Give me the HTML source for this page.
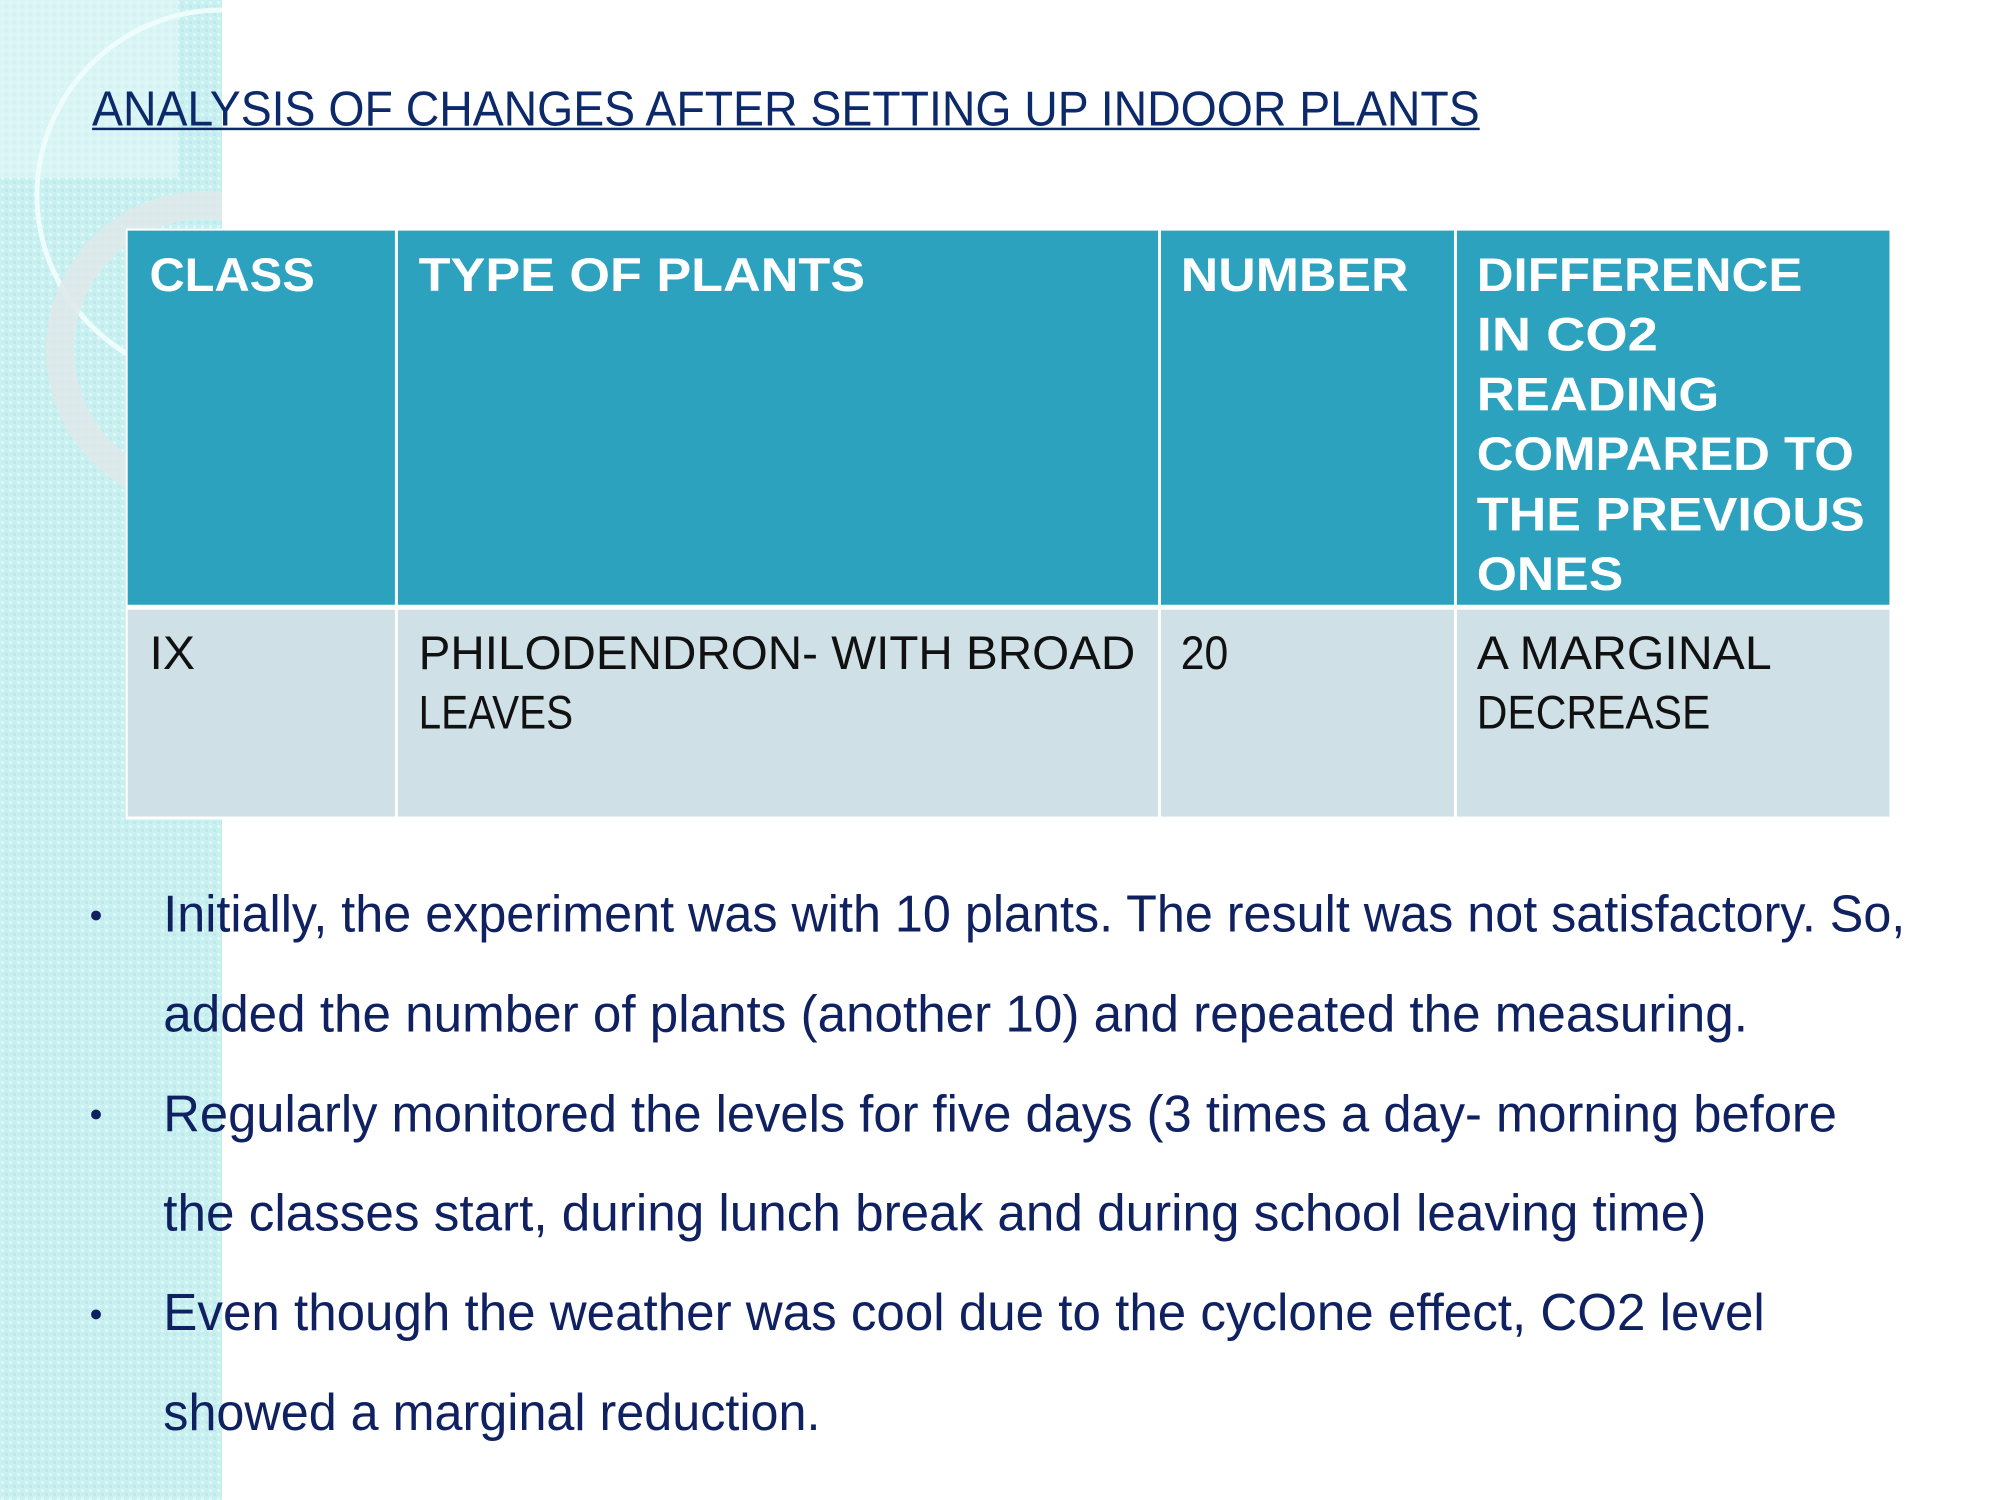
<!DOCTYPE html>
<html><head><meta charset="utf-8"><style>html,body{margin:0;padding:0;background:#fff}svg{display:block}</style></head>
<body>
<svg width="2000" height="1500" viewBox="0 0 2000 1500" xmlns="http://www.w3.org/2000/svg">
<defs>
<pattern id="chk" width="8" height="8" patternUnits="userSpaceOnUse">
<rect width="8" height="8" fill="#c9f0f1"/>
<rect x="1" y="1" width="3" height="3" fill="#dcf7f7"/>
<rect x="5" y="5" width="3" height="3" fill="#bfe9eb"/>
</pattern>
<clipPath id="strip"><rect x="0" y="0" width="222" height="1500"/></clipPath>
</defs>
<rect x="0" y="0" width="222" height="1500" fill="url(#chk)"/>
<g clip-path="url(#strip)">
<rect x="0" y="0" width="178" height="178" fill="#e4f9f9" opacity="0.6"/>
<circle cx="222" cy="195" r="185" fill="none" stroke="#eefcfc" stroke-width="5"/>
<circle cx="205" cy="350" r="145" fill="none" stroke="#dfe9ea" stroke-width="28" opacity="0.9"/>
</g>
<g transform="scale(0.98977)" font-family="'Liberation Sans', sans-serif">
<text x="93" y="127" font-size="50" fill="#0c2a6a" textLength="1402" lengthAdjust="spacingAndGlyphs">ANALYSIS OF  CHANGES AFTER SETTING UP INDOOR PLANTS</text>
<rect x="93" y="129" width="1402" height="2.5" fill="#0c2a6a"/>

<rect x="127" y="231" width="1784" height="597" fill="#fff"/>
<rect x="129" y="233" width="270" height="378" fill="#2da2bf"/>
<rect x="402" y="233" width="768" height="378" fill="#2da2bf"/>
<rect x="1173" y="233" width="296" height="378" fill="#2da2bf"/>
<rect x="1472" y="233" width="437" height="378" fill="#2da2bf"/>
<rect x="129" y="616" width="270" height="209" fill="#cfe1e7"/>
<rect x="402" y="616" width="768" height="209" fill="#cfe1e7"/>
<rect x="1173" y="616" width="296" height="209" fill="#cfe1e7"/>
<rect x="1472" y="616" width="437" height="209" fill="#cfe1e7"/>

<g font-size="48" font-weight="bold" fill="#fff">
<text x="151" y="294" textLength="167" lengthAdjust="spacingAndGlyphs">CLASS</text>
<text x="423" y="294" textLength="451" lengthAdjust="spacingAndGlyphs">TYPE OF PLANTS</text>
<text x="1193" y="294" textLength="230" lengthAdjust="spacingAndGlyphs">NUMBER</text>
<text x="1492" y="294" textLength="329" lengthAdjust="spacingAndGlyphs">DIFFERENCE</text>
<text x="1492" y="354" textLength="183" lengthAdjust="spacingAndGlyphs">IN CO2</text>
<text x="1492" y="415" textLength="245" lengthAdjust="spacingAndGlyphs">READING</text>
<text x="1492" y="475" textLength="381" lengthAdjust="spacingAndGlyphs">COMPARED TO</text>
<text x="1492" y="536" textLength="392" lengthAdjust="spacingAndGlyphs">THE PREVIOUS</text>
<text x="1492" y="596" textLength="148" lengthAdjust="spacingAndGlyphs">ONES</text>
</g>
<g font-size="48" fill="#111">
<text x="151" y="676" textLength="46" lengthAdjust="spacingAndGlyphs">IX</text>
<text x="423" y="676" textLength="724" lengthAdjust="spacingAndGlyphs">PHILODENDRON- WITH BROAD</text>
<text x="423" y="736" textLength="156" lengthAdjust="spacingAndGlyphs">LEAVES</text>
<text x="1193" y="676" textLength="48" lengthAdjust="spacingAndGlyphs">20</text>
<text x="1492" y="676" textLength="298" lengthAdjust="spacingAndGlyphs">A MARGINAL</text>
<text x="1492" y="736" textLength="236" lengthAdjust="spacingAndGlyphs">DECREASE</text>
</g>
<g fill="#0f2160">
<circle cx="97" cy="925" r="5"/>
<circle cx="97" cy="1126" r="5"/>
<circle cx="97" cy="1328" r="5"/>
</g>
<g font-size="52" fill="#0f2160">
<text x="165" y="941" textLength="1760" lengthAdjust="spacingAndGlyphs">Initially, the experiment was with 10 plants. The result was not satisfactory. So,</text>
<text x="165" y="1042" textLength="1601" lengthAdjust="spacingAndGlyphs">added the number of plants (another 10)  and repeated the measuring.</text>
<text x="165" y="1143" textLength="1691" lengthAdjust="spacingAndGlyphs">Regularly monitored the levels for five days (3 times a day- morning before</text>
<text x="165" y="1243" textLength="1559" lengthAdjust="spacingAndGlyphs">the classes start, during lunch break and during school leaving time)</text>
<text x="165" y="1344" textLength="1618" lengthAdjust="spacingAndGlyphs">Even though the weather was cool due to the cyclone effect, CO2 level</text>
<text x="165" y="1445" textLength="664" lengthAdjust="spacingAndGlyphs">showed a marginal reduction.</text>
</g>
</g>
</svg>
</body></html>
